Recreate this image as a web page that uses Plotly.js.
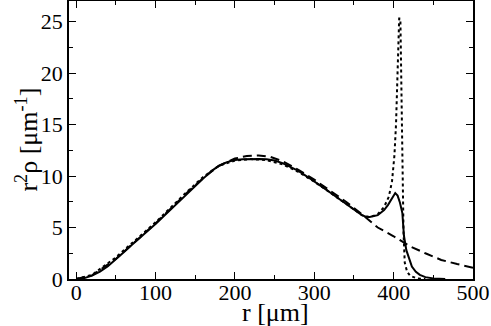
<!DOCTYPE html>
<html>
<head>
<meta charset="utf-8">
<script src="https://cdn.plot.ly/plotly-3.0.1.min.js"></script>
<style>
  body { margin: 0; background: #fff; }
  .modebar-container, .modebar { display: none !important; }
</style>
</head>
<body>
<div id="graph"></div>
<script>
// Perfil r^2 rho (tres curvas)
const rSolid = [0, 10, 20, 30, 40, 50, 60, 70, 80, 90, 100, 110, 120, 130, 140, 150, 160, 170, 180, 190,
  200, 210, 220, 230, 240, 250, 260, 270, 280, 290, 300, 310, 320, 330, 340, 350, 360, 365, 370, 380,
  388, 393, 398, 402, 405, 408, 411, 413, 416, 420, 423, 428, 433, 440, 450, 465];
const ySolid = [0, 0.08, 0.33, 0.72, 1.25, 1.9, 2.6, 3.3, 3.95, 4.65, 5.35, 6.1, 6.85, 7.6, 8.35, 9.05, 9.75, 10.45, 11.0, 11.35,
  11.55, 11.62, 11.65, 11.65, 11.62, 11.5, 11.25, 10.9, 10.5, 10.0, 9.5, 8.95, 8.4, 7.85, 7.3, 6.75, 6.2, 6.05, 6.02, 6.2,
  6.7, 7.2, 7.9, 8.35, 8.1, 7.4, 6.4, 4.2, 2.8, 1.8, 1.2, 0.7, 0.4, 0.18, 0.06, 0];

const rDashed = [0, 20, 50, 80, 100, 120, 140, 160, 180, 200, 215, 230, 245, 260, 280, 300, 320, 340, 360, 380,
  400, 420, 440, 460, 480, 500];
const yDashed = [0, 0.35, 1.95, 4.0, 5.4, 6.9, 8.4, 9.8, 11.0, 11.7, 11.95, 12.0, 11.85, 11.45, 10.6, 9.65, 8.6, 7.5, 6.3, 5.0,
  4.15, 3.2, 2.5, 1.85, 1.45, 1.1];

const rDotted = [0, 20, 50, 80, 100, 120, 140, 160, 180, 200, 220, 240, 260, 280, 300, 320, 340, 360, 370, 380,
  388, 394, 398, 401, 403, 405, 407, 408.5, 409.5, 410.5, 411.5, 412.5, 414, 417, 421, 430, 440];
const yDotted = [0, 0.4, 2.1, 4.1, 5.5, 7.0, 8.5, 9.9, 11.0, 11.5, 11.65, 11.55, 11.15, 10.4, 9.45, 8.4, 7.3, 6.2, 6.0, 6.3,
  7.0, 8.0, 9.5, 12, 15, 20, 25.3, 25.3, 20, 14, 8.3, 4.4, 1.6, 0.7, 0.3, 0.05, 0];

const xTicks = [0, 100, 200, 300, 400, 500];
const yTicks = [0, 5, 10, 15, 20, 25];
const xTitle = 'r [μm]';
const yTitle = 'r<sup>2</sup>ρ [μm<sup>-1</sup>]';

const traces = [
  { x: rDashed, y: yDashed, type: 'scatter', mode: 'lines',
    line: { color: 'black', width: 2, dash: '9px,5px' } },
  { x: rDotted, y: yDotted, type: 'scatter', mode: 'lines',
    line: { color: 'black', width: 2, dash: 'dot' } },
  { x: rSolid, y: ySolid, type: 'scatter', mode: 'lines',
    line: { color: 'black', width: 2 } }
];

const layout = {
  width: 491,
  height: 326,
  margin: { l: 69, r: 18, t: 1, b: 47 },
  paper_bgcolor: '#fff',
  plot_bgcolor: '#fff',
  showlegend: false,
  font: { family: 'Liberation Serif', color: 'black', size: 22 },
  xaxis: {
    range: [-9, 500],
    tickmode: 'array',
    tickvals: xTicks,
    ticks: 'inside', ticklen: 7, tickwidth: 1, tickcolor: 'black',
    showline: true, linecolor: 'black', linewidth: 1.5, mirror: 'allticks',
    showgrid: false, zeroline: false,
    ticklabelstandoff: -7,
    minor: { dtick: 50, tick0: 0, ticks: 'inside', ticklen: 4, tickwidth: 1, tickcolor: 'black' }
  },
  yaxis: {
    range: [0, 27],
    tickmode: 'array',
    tickvals: yTicks,
    ticks: 'inside', ticklen: 7, tickwidth: 1, tickcolor: 'black',
    showline: true, linecolor: 'black', linewidth: 1.5, mirror: 'allticks',
    showgrid: false, zeroline: false,
    minor: { dtick: 2.5, tick0: 0, ticks: 'inside', ticklen: 4, tickwidth: 1, tickcolor: 'black' }
  },
  annotations: [
    { text: xTitle, xref: 'paper', yref: 'paper', x: 0.512, y: -0.12,
      xanchor: 'center', yanchor: 'middle', showarrow: false,
      font: { family: 'Liberation Serif', size: 26, color: 'black' } },
    { text: yTitle, xref: 'paper', yref: 'paper', x: -0.105, y: 0.5, textangle: -90,
      xanchor: 'center', yanchor: 'middle', showarrow: false,
      font: { family: 'Liberation Serif', size: 26, color: 'black' } }
  ]
};

Plotly.newPlot('graph', traces, layout);
</script>
</body>
</html>
